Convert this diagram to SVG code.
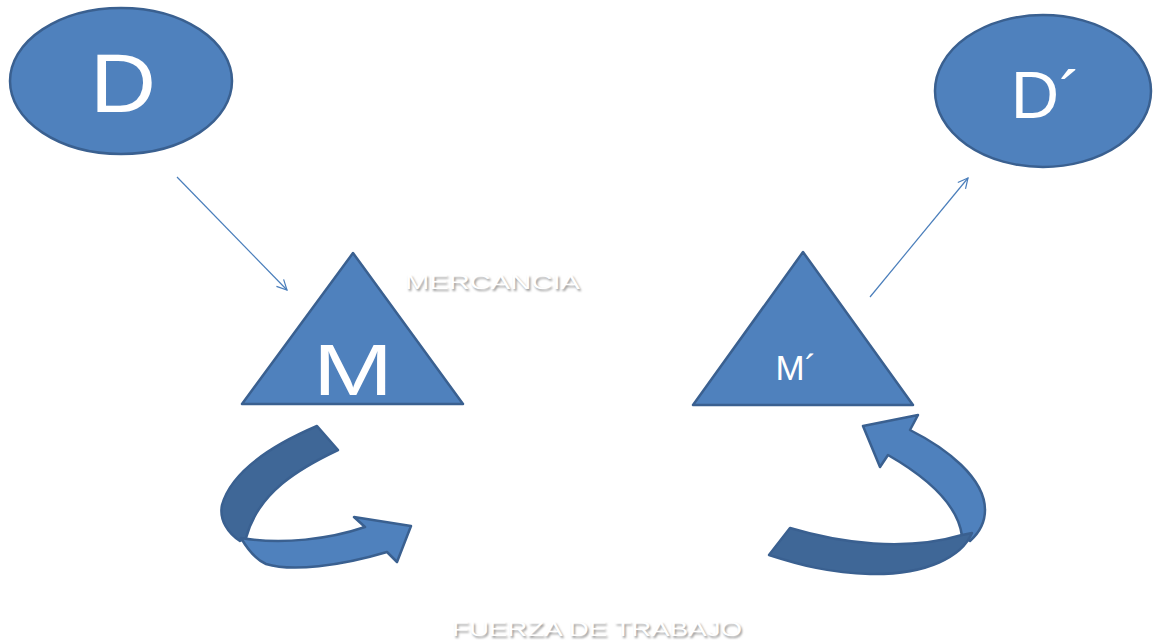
<svg xmlns="http://www.w3.org/2000/svg" width="1153" height="643" viewBox="0 0 1153 643">
<style>
.shape{fill:#4F81BD;stroke:#3A6090;stroke-width:2.5;stroke-linejoin:round}
.dark{fill:#3F6797;stroke:#3A6090;stroke-width:2.5;stroke-linejoin:round}
.lbl{font-family:"Liberation Sans",Arial,sans-serif;fill:#FFFFFF;text-anchor:middle}
.conn{stroke:#4A7EBB;stroke-width:1.2;fill:none}
.wt{font-family:"Liberation Sans",Arial,sans-serif;font-size:20px}
.wt-sh{fill:#9A9A9A;filter:url(#blur)}
.wt-fg{fill:#FFFFFF}
</style>
<defs>
<marker id="arr" viewBox="0 0 12 12" refX="11" refY="6" markerWidth="12" markerHeight="12" markerUnits="userSpaceOnUse" orient="auto">
<path d="M1,1 L11,6 L1,11" fill="none" stroke="#4A7EBB" stroke-width="1.2"/>
</marker>
<filter id="blur" x="-10%" y="-50%" width="120%" height="200%"><feGaussianBlur stdDeviation="0.9"/></filter>
</defs>
<rect width="1153" height="643" fill="#FFFFFF"/>

<g id="node-D">
<ellipse class="shape" cx="121" cy="81" rx="111" ry="73"/>
<text class="lbl" x="123" y="112" font-size="84" textLength="66" lengthAdjust="spacingAndGlyphs">D</text>
</g>

<g id="node-D2">
<ellipse class="shape" cx="1043" cy="91" rx="108" ry="76"/>
<text class="lbl" x="1046" y="118" font-size="67">D´</text>
</g>

<g id="node-M">
<polygon class="shape" points="353,253 242,404 463,404"/>
<text class="lbl" x="353" y="395" font-size="72" textLength="80" lengthAdjust="spacingAndGlyphs">M</text>
</g>

<g id="node-M2">
<polygon class="shape" points="803,252 693,405 913,405"/>
<text class="lbl" x="796" y="380" font-size="35">M´</text>
</g>

<g id="label-mercancia">
<text class="wt wt-sh" x="406.5" y="290.5" textLength="175" lengthAdjust="spacingAndGlyphs">MERCANCIA</text>
<text class="wt wt-fg" x="405" y="289" textLength="175" lengthAdjust="spacingAndGlyphs">MERCANCIA</text>
</g>

<g id="label-fuerza">
<text class="wt wt-sh" x="453.5" y="637.5" textLength="290" lengthAdjust="spacingAndGlyphs">FUERZA DE TRABAJO</text>
<text class="wt wt-fg" x="452" y="636" textLength="290" lengthAdjust="spacingAndGlyphs">FUERZA DE TRABAJO</text>
</g>

<g id="curved-arrow-left">
<path class="dark" d="M317,426 L338,450 C300,468 258,492 246,538 L240,541 C228,533 219,520 222,505 C232,470 275,444 317,426 Z"/>
<path class="shape" d="M241,538 C282,545 330,539 365,527 L354,517 L411,526 L397,562 L387,552 C340,566 292,572 266,564 C255,559 248,550 241,538 Z"/>
</g>

<g id="curved-arrow-right">
<path class="shape" d="M962,536 C958,505 928,478 888,455 L880,467 L863,426 L918,415 L910,430 C946,448 985,478 985,510 C985,523 979,533 970,541 Z"/>
<path class="dark" d="M790,528 C840,543 905,552 962,535 L972,533 C962,556 928,575 870,574 C830,573 800,565 769,555 Z"/>
</g>

<g id="connectors">
<line class="conn" x1="177" y1="177" x2="287" y2="290" marker-end="url(#arr)"/>
<line class="conn" x1="870" y1="297" x2="968" y2="178" marker-end="url(#arr)"/>
</g>
</svg>
